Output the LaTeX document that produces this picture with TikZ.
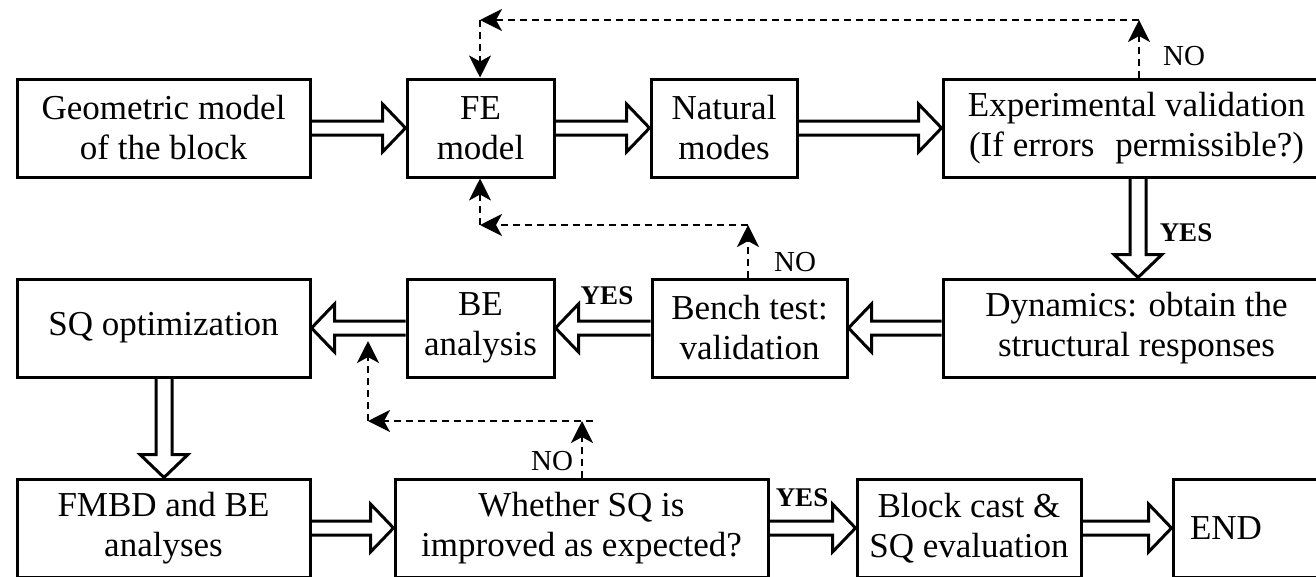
\documentclass[tikz,border=0pt]{standalone}
\usepackage{fontspec}
\setmainfont{Liberation Serif}
\newfontfamily\tnr{Liberation Serif}
\usetikzlibrary{arrows.meta,calc}
\newcommand{\fatH}[2]{%
  \draw[fat] let \p1=(#1), \p2=(#2), \n1={sign(\x2-\x1)} in
    (\x1,\y1+7pt) -- ({\x2-\n1*23pt},\y1+7pt) -- ({\x2-\n1*23pt},\y1+24pt)
    -- (\x2,\y1) -- ({\x2-\n1*23pt},\y1-24pt) -- ({\x2-\n1*23pt},\y1-7pt) -- (\x1,\y1-7pt);}
\newcommand{\fatV}[2]{%
  \draw[fat] let \p1=(#1), \p2=(#2), \n1={sign(\y2-\y1)} in
    (\x1+8pt,\y1) -- (\x1+8pt,{\y2-\n1*23pt}) -- (\x1+24pt,{\y2-\n1*23pt})
    -- (\x1,\y2) -- (\x1-24pt,{\y2-\n1*23pt}) -- (\x1-8pt,{\y2-\n1*23pt}) -- (\x1-8pt,\y1);}
\begin{document}
\begin{tikzpicture}[x=1pt,y=-1pt,
  box/.style={draw, line width=3pt, minimum height=98pt, inner sep=0pt, align=center,
    font=\tnr\fontsize{35}{40}\selectfont},
  fat/.style={draw, line width=3pt, line join=miter},
  dl/.style={line width=2.6pt, dash pattern=on 7pt off 5pt,
    -{Stealth[length=22pt,width=22pt,inset=6pt]}},
  lab/.style={font=\tnr\fontsize{29}{30}\selectfont, inner sep=0pt},
  yes/.style={font=\tnr\bfseries\fontsize{27}{28}\selectfont, inner sep=0pt}]
\useasboundingbox (0,0) rectangle (1316,576);
\clip (0,0) rectangle (1316,576);
% row 1
\node[box, minimum width=293pt] (geo) at (163.5,128) {Geometric model\\of the block};
\node[box, minimum width=147pt] (fe) at (480.5,128) {FE\\model};
\node[box, minimum width=146pt] (nat) at (724,128) {Natural\\modes};
\node[box, minimum width=387pt] (exp) at (1136.5,128) {Experimental validation\\(If errors\hspace{0.35em} permissible?)};
% row 2
\node[box, minimum width=293pt] (sq) at (163.5,328) {SQ optimization};
\node[box, minimum width=147pt] (be) at (480.5,328) {BE\\analysis};
\node[box, minimum width=195pt] (bench) at (749.5,328) {Bench test:\\validation};
\node[box, minimum width=387pt] (dyn) at (1136.5,328) {Dynamics: obtain the\\structural responses};
% row 3
\node[box, minimum width=293pt] (fmbd) at (163.5,528) {FMBD and BE\\analyses};
\node[box, minimum width=373pt] (wh) at (581.5,528) {Whether SQ is\\improved as expected?};
\node[box, minimum width=224pt] (blk) at (969,528) {Block cast \&\\SQ evaluation};
\node[box, minimum width=157pt, text width=123pt, align=left, inner xsep=17pt] (end) at (1251.5,528) {END};
% fat arrows
\coordinate (v1) at (1138,0);
\coordinate (v2) at (164,0);
\fatH{geo.east}{fe.west}
\fatH{fe.east}{nat.west}
\fatH{nat.east}{exp.west}
\fatV{exp.south -| v1}{dyn.north -| v1}
\fatH{dyn.west}{bench.east}
\fatH{bench.west}{be.east}
\fatH{be.west}{sq.east}
\fatV{sq.south -| v2}{fmbd.north -| v2}
\fatH{fmbd.east}{wh.west}
\fatH{wh.east}{blk.west}
\fatH{blk.east}{end.west}
% dotted feedback
\coordinate (n1) at (1139,20);
\coordinate (n2) at (480,20);
\coordinate (n3) at (748,225);
\coordinate (n4) at (480,225);
\coordinate (n5) at (582,421);
\coordinate (n5r) at (593,421);
\coordinate (n6) at (368,421);
\coordinate (n7) at (368,341);
\draw[dl] (exp.north -| n1) -- (n1);
\draw[dl] (n1) -- (n2);
\draw[dl] (n2) -- (fe.north -| n2);
\draw[dl] (bench.north -| n3) -- (n3);
\draw[dl] (n3) -- (n4);
\draw[dl] (n4) -- (fe.south -| n4);
\draw[dl] (wh.north -| n5) -- (n5);
\draw[dl] (n5r) -- (n6);
\draw[dl] (n6) -- (n7);
% labels
\node[lab] (no1) at (1184,56) {NO};
\node[lab] (no2) at (795,262) {NO};
\node[lab] (no3) at (552,461) {NO};
\node[yes] (y1) at (1186,233) {YES};
\node[yes] (y2) at (607,296) {YES};
\node[yes] (y3) at (802,498) {YES};
\end{tikzpicture}
\end{document}
